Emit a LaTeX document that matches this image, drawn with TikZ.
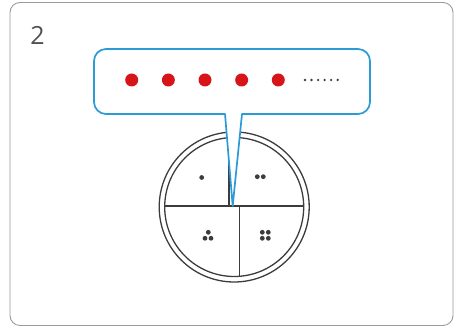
\documentclass[tikz,border=0pt]{standalone}
\usepackage{fontspec}
\setmainfont{Open Sans}
\definecolor{framegray}{HTML}{9A9A9A}
\definecolor{callblue}{HTML}{2A9BD6}
\definecolor{dotred}{HTML}{D7141A}
\definecolor{dark}{HTML}{3C3C3C}
\begin{document}
\begin{tikzpicture}[x=1pt,y=1pt,
  frame/.style={draw=framegray,line width=0.9pt,rounded corners=10pt},
  callout/.style={draw=callblue,fill=white,line width=1.7pt,line join=round},
  ring/.style={draw=dark,line width=1.3pt},
  reddot/.style={fill=dotred},
  smalldot/.style={fill=dark}]
\useasboundingbox (0,0) rectangle (456,328);
\draw[frame] (10,2.5) rectangle (453,325.5);
\node[font=\fontsize{25}{30}\selectfont,text=dark!90] (num) at (37.5,292.5) {2};
% wheel
\draw[ring] (234.2,121) circle[radius=75];
\draw[ring] (234.2,121) circle[radius=69.5];
\draw[ring] (164.7,122) -- (303.7,122);
\draw[ring] (229,122) -- (229,190.3);
\draw[ring] (239.3,122) -- (239.3,51.7);
% quadrant dots
\fill[smalldot] (201.7,150.5) circle[radius=2.4];
\fill[smalldot] (257.3,151.3) circle[radius=2.4];
\fill[smalldot] (263.3,151.3) circle[radius=2.4];
\fill[smalldot] (208.3,95.7) circle[radius=2.4];
\fill[smalldot] (205,89.7) circle[radius=2.4];
\fill[smalldot] (211,89.7) circle[radius=2.4];
\foreach \x in {262.3,268.3}{\foreach \y in {95.7,89.7}{\fill[smalldot] (\x,\y) circle[radius=2.4];}}
% callout
\draw[callout] (232.7,122) -- (242,214) -- (358,214) arc[start angle=270,end angle=360,radius=12]
  -- (370,267) arc[start angle=0,end angle=90,radius=12]
  -- (106,279) arc[start angle=90,end angle=180,radius=12]
  -- (94,226) arc[start angle=180,end angle=270,radius=12]
  -- (225,214) -- cycle;
\foreach \i in {0,...,4}{\fill[reddot] (131.7+36.65*\i,248) circle[radius=6.5];}
\foreach \i in {0,...,5}{\fill[smalldot] (305+6.54*\i,248) circle[radius=1.3];}
\end{tikzpicture}
\end{document}
